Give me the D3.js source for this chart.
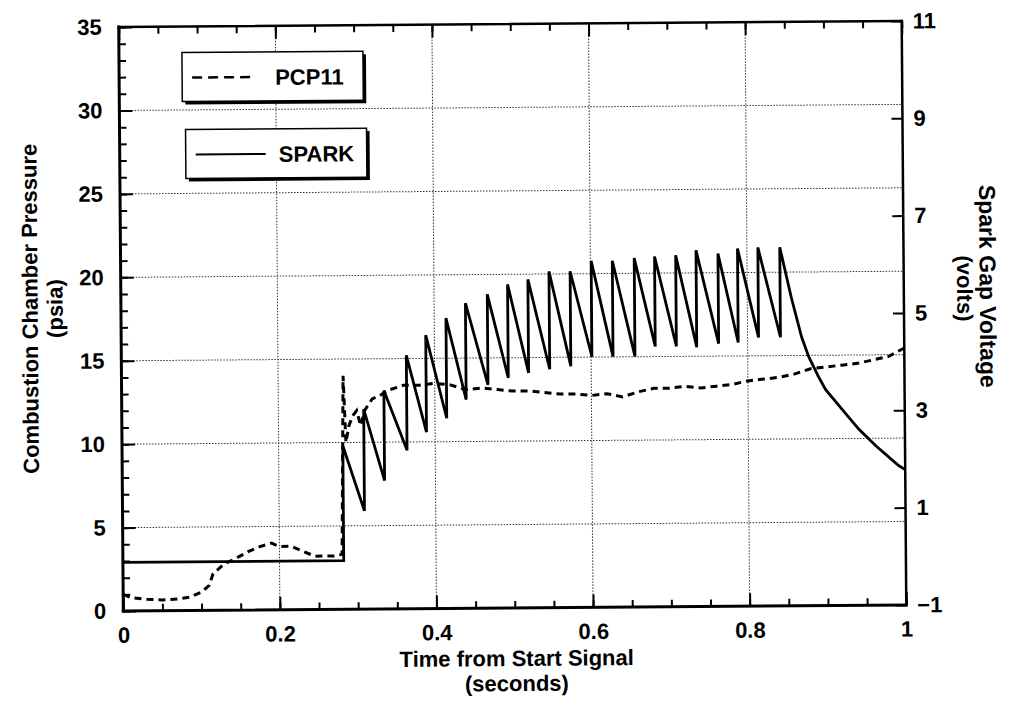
<!DOCTYPE html>
<html>
<head>
<meta charset="utf-8">
<script src="https://cdn.jsdelivr.net/npm/d3@7"></script>
<style>
  body { margin: 0; background: #fff; }
  text { font-family: "Liberation Sans", Arial, Helvetica, sans-serif; font-weight: bold; fill: #000; }
</style>
</head>
<body>
<div id="chart"></div>
<script>

// ...............................
// data

// PCP11 combustion chamber pressure (psia, left axis)
var pcpTime = [0, 0.01, 0.03, 0.05, 0.07, 0.085, 0.1, 0.11, 0.115, 0.13, 0.14, 0.16, 0.175, 0.19, 0.2,
               0.215, 0.23, 0.245, 0.27, 0.28, 0.283, 0.286, 0.29, 0.295, 0.3, 0.305, 0.31, 0.32, 0.33,
               0.34, 0.36, 0.38, 0.4, 0.42, 0.44, 0.46, 0.48, 0.5, 0.52, 0.54, 0.56, 0.58, 0.6, 0.62,
               0.64, 0.66, 0.68, 0.7, 0.72, 0.74, 0.76, 0.78, 0.8, 0.82, 0.84, 0.86, 0.88, 0.9, 0.92,
               0.94, 0.96, 0.98, 1.0];
var pcpPsia = [1.0, 0.8, 0.7, 0.65, 0.7, 0.8, 1.1, 1.5, 2.2, 2.8, 3.0, 3.5, 3.8, 4.0, 3.8,
               3.8, 3.5, 3.2, 3.2, 3.3, 14.0, 10.0, 11.0, 11.6, 11.9, 11.0, 11.9, 12.6, 12.8,
               13.1, 13.4, 13.4, 13.5, 13.4, 13.1, 13.2, 13.1, 13.0, 13.0, 12.9, 12.8, 12.8, 12.7, 12.8,
               12.6, 12.9, 13.1, 13.1, 13.2, 13.1, 13.2, 13.3, 13.5, 13.6, 13.7, 13.9, 14.2, 14.3, 14.4,
               14.5, 14.7, 14.9, 15.4];

// SPARK gap voltage (volts, right axis): flat start, then sawtooth, then tail
var sparkBaseTime = [0, 0.282];
var sparkBaseVolts = [0, 0];
var sparkRiseTime = [0.282, 0.309, 0.335, 0.364, 0.389, 0.415, 0.44, 0.468, 0.494, 0.52, 0.547,
                     0.574, 0.601, 0.628, 0.656, 0.682, 0.709, 0.735, 0.763, 0.788, 0.814, 0.842];
var sparkPeak = [2.36, 3.11, 3.49, 4.21, 4.62, 4.97, 5.27, 5.45, 5.65, 5.75, 5.91,
                 5.91, 6.12, 6.12, 6.17, 6.2, 6.22, 6.32, 6.25, 6.35, 6.37, 6.37];
// value reached at the end of each decay, just before the next rise
var sparkTrough = [1.02, 1.64, 2.26, 2.63, 2.91, 3.29, 3.59, 3.73, 3.83, 3.9,
                   3.96, 4.15, 4.15, 4.15, 4.35, 4.35, 4.33, 4.4, 4.42, 4.52, 4.52];
var sparkTailTime = [0.856, 0.869, 0.878, 0.89, 0.899, 0.92, 0.941, 0.963, 0.992, 1.0];
var sparkTailVolts = [5.35, 4.52, 4.11, 3.71, 3.44, 3.03, 2.62, 2.27, 1.86, 1.78];

// axis ticks
var xMajorTicks = [0, 0.2, 0.4, 0.6, 0.8, 1];
var xMinorTicks = d3.range(0, 1.0001, 0.05);
var yLeftTicks = [0, 5, 10, 15, 20, 25, 30, 35];
var yLeftMinor = d3.range(0, 35.001, 1);
var yRightTicks = [-1, 1, 3, 5, 7, 9, 11];
var xGrid = [0.2, 0.4, 0.6, 0.8];
var yGrid = [5, 10, 15, 20, 25, 30];

var legendItems = [ {name: "PCP11", dash: "10,6"}, {name: "SPARK", dash: null} ];

// ...............................
// layout

var W = 1012, H = 706;
var plot = {left: 121, right: 904, top: 24, bottom: 608};
var skew = -0.45; // scanned page is turned slightly

var svg = d3.select("#chart").append("svg")
  .attr("width", W).attr("height", H);

svg.append("rect").attr("width", W).attr("height", H).attr("fill", "#fff");

var g = svg.append("g")
  .attr("transform", "rotate(" + skew + " " + (plot.left + plot.right)/2 + " " + (plot.top + plot.bottom)/2 + ")");

var x = d3.scaleLinear().domain([0, 1]).range([plot.left, plot.right]);
var yL = d3.scaleLinear().domain([0, 35]).range([plot.bottom, plot.top]);
var yR = d3.scaleLinear().domain([-1, 11]).range([plot.bottom, plot.top]);

// ...............................
// grid

g.append("g").selectAll("line").data(yGrid).enter().append("line")
  .attr("x1", plot.left).attr("x2", plot.right)
  .attr("y1", function(d) { return yL(d); }).attr("y2", function(d) { return yL(d); })
  .attr("stroke", "#333").attr("stroke-width", 1).attr("stroke-dasharray", "1.5,1.5");

g.append("g").selectAll("line").data(xGrid).enter().append("line")
  .attr("y1", plot.top).attr("y2", plot.bottom)
  .attr("x1", function(d) { return x(d); }).attr("x2", function(d) { return x(d); })
  .attr("stroke", "#333").attr("stroke-width", 1).attr("stroke-dasharray", "1.5,1.5");

// ...............................
// axes (ticks point into the plot)

function fn_styleAxis(sel) {
  sel.select(".domain").remove();
  sel.selectAll(".tick line").attr("stroke", "#000").attr("stroke-width", 2);
  sel.selectAll(".tick text").style("font-size", "22px").attr("fill", "#000");
}

g.append("g").attr("transform", "translate(0," + plot.bottom + ")")
  .call(d3.axisBottom(x).tickValues(xMinorTicks).tickFormat("").tickSize(-7))
  .call(fn_styleAxis);
g.append("g").attr("transform", "translate(0," + plot.bottom + ")")
  .call(d3.axisBottom(x).tickValues(xMajorTicks).tickFormat(d3.format("")).tickSize(-13).tickPadding(16))
  .call(fn_styleAxis);

g.append("g").attr("transform", "translate(0," + plot.top + ")")
  .call(d3.axisTop(x).tickValues(xMinorTicks).tickFormat("").tickSize(-7))
  .call(fn_styleAxis);
g.append("g").attr("transform", "translate(0," + plot.top + ")")
  .call(d3.axisTop(x).tickValues(xMajorTicks).tickFormat("").tickSize(-13))
  .call(fn_styleAxis);

g.append("g").attr("transform", "translate(" + plot.left + ",0)")
  .call(d3.axisLeft(yL).tickValues(yLeftMinor).tickFormat("").tickSize(-7))
  .call(fn_styleAxis);
g.append("g").attr("transform", "translate(" + plot.left + ",0)")
  .call(d3.axisLeft(yL).tickValues(yLeftTicks).tickSize(-13).tickPadding(17))
  .call(fn_styleAxis);

g.append("g").attr("transform", "translate(" + plot.right + ",0)")
  .call(d3.axisRight(yR).tickValues(yRightTicks).tickSize(-11).tickPadding(11)
        .tickFormat(function(d) { return d < 0 ? "\u2212" + Math.abs(d) : d; }))
  .call(fn_styleAxis);

// frame
var frame = [
  {x1: plot.left, y1: plot.bottom, x2: plot.right, y2: plot.bottom, w: 3},
  {x1: plot.left, y1: plot.top, x2: plot.left, y2: plot.bottom, w: 3},
  {x1: plot.left, y1: plot.top, x2: plot.right, y2: plot.top, w: 2.5},
  {x1: plot.right, y1: plot.top, x2: plot.right, y2: plot.bottom, w: 2.5}
];
g.append("g").selectAll("line").data(frame).enter().append("line")
  .attr("x1", function(d) { return d.x1; }).attr("y1", function(d) { return d.y1; })
  .attr("x2", function(d) { return d.x2; }).attr("y2", function(d) { return d.y2; })
  .attr("stroke", "#000").attr("stroke-width", function(d) { return d.w; })
  .attr("stroke-linecap", "square");

// ...............................
// series

var pcpData = pcpTime.map(function(t, i) { return [t, pcpPsia[i]]; });

var sparkData = sparkBaseTime.map(function(t, i) { return [t, sparkBaseVolts[i]]; });
for (idx = 0; idx < sparkRiseTime.length; idx++) {
  sparkData.push([sparkRiseTime[idx], sparkPeak[idx]]);
  if (idx < sparkTrough.length) sparkData.push([sparkRiseTime[idx + 1], sparkTrough[idx]]);
}
for (idx = 0; idx < sparkTailTime.length; idx++) sparkData.push([sparkTailTime[idx], sparkTailVolts[idx]]);

var lineL = d3.line().x(function(d) { return x(d[0]); }).y(function(d) { return yL(d[1]); });
var lineR = d3.line().x(function(d) { return x(d[0]); }).y(function(d) { return yR(d[1]); });

g.append("path").datum(sparkData)
  .attr("d", lineR).attr("fill", "none")
  .attr("stroke", "#000").attr("stroke-width", 2.8).attr("stroke-linejoin", "miter");

g.append("path").datum(pcpData)
  .attr("d", lineL).attr("fill", "none")
  .attr("stroke", "#000").attr("stroke-width", 3).attr("stroke-dasharray", "7,5");

// ...............................
// legend boxes

var legendPos = [ [184, 50], [187, 127] ];
for (idx = 0; idx < legendItems.length; idx++) {
  var lg = g.append("g").attr("transform", "translate(" + legendPos[idx][0] + "," + legendPos[idx][1] + ")");
  lg.append("rect").attr("x", 3).attr("y", 3).attr("width", 181).attr("height", 49).attr("fill", "#000");
  lg.append("rect").attr("width", 181).attr("height", 49)
    .attr("fill", "#fff").attr("stroke", "#000").attr("stroke-width", 1.5);
  lg.append("line")
    .attr("x1", 10).attr("x2", idx === 0 ? 69 : 80).attr("y1", 25).attr("y2", 25)
    .attr("stroke", "#000").attr("stroke-width", idx === 0 ? 2.5 : 2)
    .attr("stroke-dasharray", legendItems[idx].dash);
  lg.append("text").text(legendItems[idx].name)
    .attr("x", 93).attr("y", 33)
    .style("font-size", "22px");
}

// ...............................
// axis titles

g.append("text").text("Time from Start Signal")
  .attr("x", 514).attr("y", 666).attr("text-anchor", "middle").style("font-size", "22px");
g.append("text").text("(seconds)")
  .attr("x", 514).attr("y", 691).attr("text-anchor", "middle").style("font-size", "22px");

g.append("text").text("Combustion Chamber Pressure")
  .attr("text-anchor", "middle").attr("dy", "0.35em").style("font-size", "22px")
  .attr("transform", "translate(30,305) rotate(-90)");
g.append("text").text("(psia)")
  .attr("text-anchor", "middle").attr("dy", "0.35em").style("font-size", "22px")
  .attr("transform", "translate(55,305) rotate(-90)");

g.append("text").text("Spark Gap Voltage")
  .attr("text-anchor", "middle").attr("dy", "0.35em").style("font-size", "23px")
  .attr("transform", "translate(988,290) rotate(90)");
g.append("text").text("(volts)")
  .attr("text-anchor", "middle").attr("dy", "0.35em").style("font-size", "22px")
  .attr("transform", "translate(965,292) rotate(90)");

</script>
</body>
</html>
